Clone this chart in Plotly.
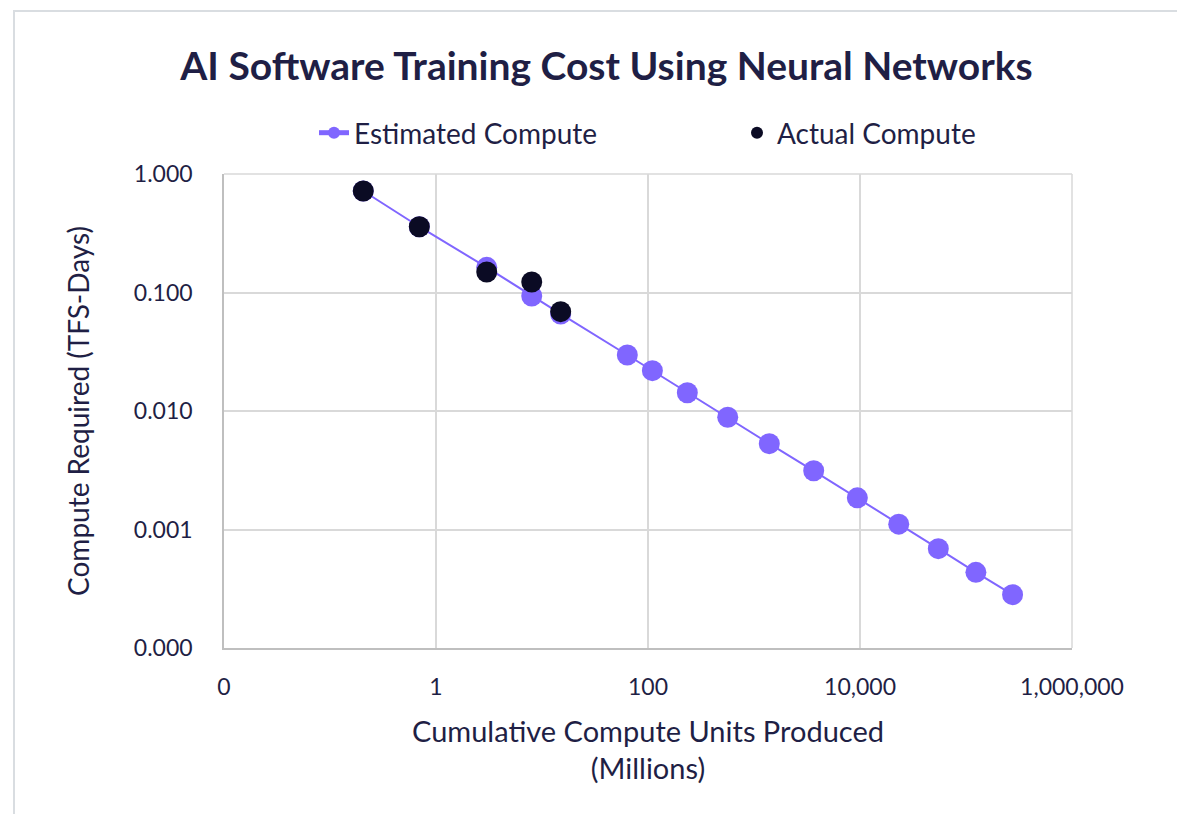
import plotly.graph_objects as go

# Data
est_units = [0.206, 0.696, 3.01, 8.0, 15.0, 63.8, 110, 235, 565, 1394, 3658, 9440, 23200, 54800, 124000, 275000]
est_compute = [0.719, 0.359, 0.163, 0.0934, 0.0659, 0.0297, 0.0219, 0.01426, 0.00885, 0.0053,
               0.00313, 0.00185, 0.00111, 0.000689, 0.000435, 0.000282]
act_units = [0.206, 0.696, 3.01, 8.0, 15.0]
act_compute = [0.719, 0.359, 0.149, 0.1227, 0.0689]

x_tickvals = [0.01, 1, 100, 10000, 1000000]
x_ticktext = ["0", "1", "100", "10,000", "1,000,000"]
y_tickvals = [0.0001, 0.001, 0.01, 0.1, 1]
y_ticktext = ["0.000", "0.001", "0.010", "0.100", "1.000"]

TXT = "#1f1f45"
FONT = "Lato"

# page body has an 8px margin; plot area target (screen): x 224-1072, y 174-648
W, H = 1177, 806
L, T = 216, 166
PW, PH = 848, 474

fig = go.Figure()
fig.add_trace(go.Scatter(
    x=est_units, y=est_compute, name="Estimated Compute", mode="lines+markers",
    line=dict(color="#8066ff", width=2),
    marker=dict(color="#8066ff", size=21),
))
fig.add_trace(go.Scatter(
    x=act_units, y=act_compute, name="Actual Compute", mode="markers",
    marker=dict(color="#0b0b24", size=21),
))

fig.update_layout(
    width=W, height=H,
    margin=dict(l=L, r=W - L - PW, t=T, b=H - T - PH, autoexpand=False),
    paper_bgcolor="white", plot_bgcolor="white",
    font=dict(family=FONT, color=TXT, size=21),
    title=dict(text="<b>AI Software Training Cost Using Neural Networks</b>",
               x=0.5 + 10 / W, xanchor="center", y=1 - 58 / H, yanchor="middle",
               font=dict(size=39, color=TXT, family=FONT)),
    showlegend=True,
    legend=dict(orientation="h", x=0.5 + 89 / PW, xanchor="center", y=1 + 41 / PH, yanchor="middle",
                font=dict(size=28, color=TXT), itemsizing="constant",
                entrywidth=378, traceorder="normal"),
    xaxis=dict(type="log", range=[-2, 6], tickvals=x_tickvals, ticktext=x_ticktext,
               showgrid=True, gridcolor="#d9d9d9", gridwidth=1.5,
               showline=True, linecolor="#bfbfbf", linewidth=1.5, mirror=False,
               ticks="", ticklabelstandoff=18, zeroline=False,
               tickfont=dict(size=23, color=TXT),
               title=dict(text="Cumulative Compute Units Produced<br>(Millions)",
                          font=dict(size=29, color=TXT), standoff=22)),
    yaxis=dict(type="log", range=[-4, 0], tickvals=y_tickvals, ticktext=y_ticktext,
               showgrid=True, gridcolor="#d9d9d9", gridwidth=1.5,
               showline=True, linecolor="#bfbfbf", linewidth=1.5,
               ticks="", ticklabelstandoff=25, zeroline=False,
               tickfont=dict(size=23, color=TXT),
               title=dict(text="Compute Required (TFS-Days)",
                          font=dict(size=28, color=TXT), standoff=36)),
    shapes=[
        dict(type="rect", xref="paper", yref="paper",
             x0=(14 - 224) / PW, x1=(1200 - 224) / PW,
             y0=(648 - 830) / PH, y1=(648 - 11) / PH,
             line=dict(color="#d9dde1", width=2), fillcolor="rgba(0,0,0,0)", layer="below"),
        dict(type="line", xref="paper", yref="paper", x0=1, x1=1, y0=0, y1=1,
             line=dict(color="#d9d9d9", width=1.5), layer="below"),
        dict(type="line", xref="paper", yref="paper", x0=0, x1=1, y0=1, y1=1,
             line=dict(color="#d9d9d9", width=1.5), layer="below"),
    ],
)

fig.write_html("out.html")
